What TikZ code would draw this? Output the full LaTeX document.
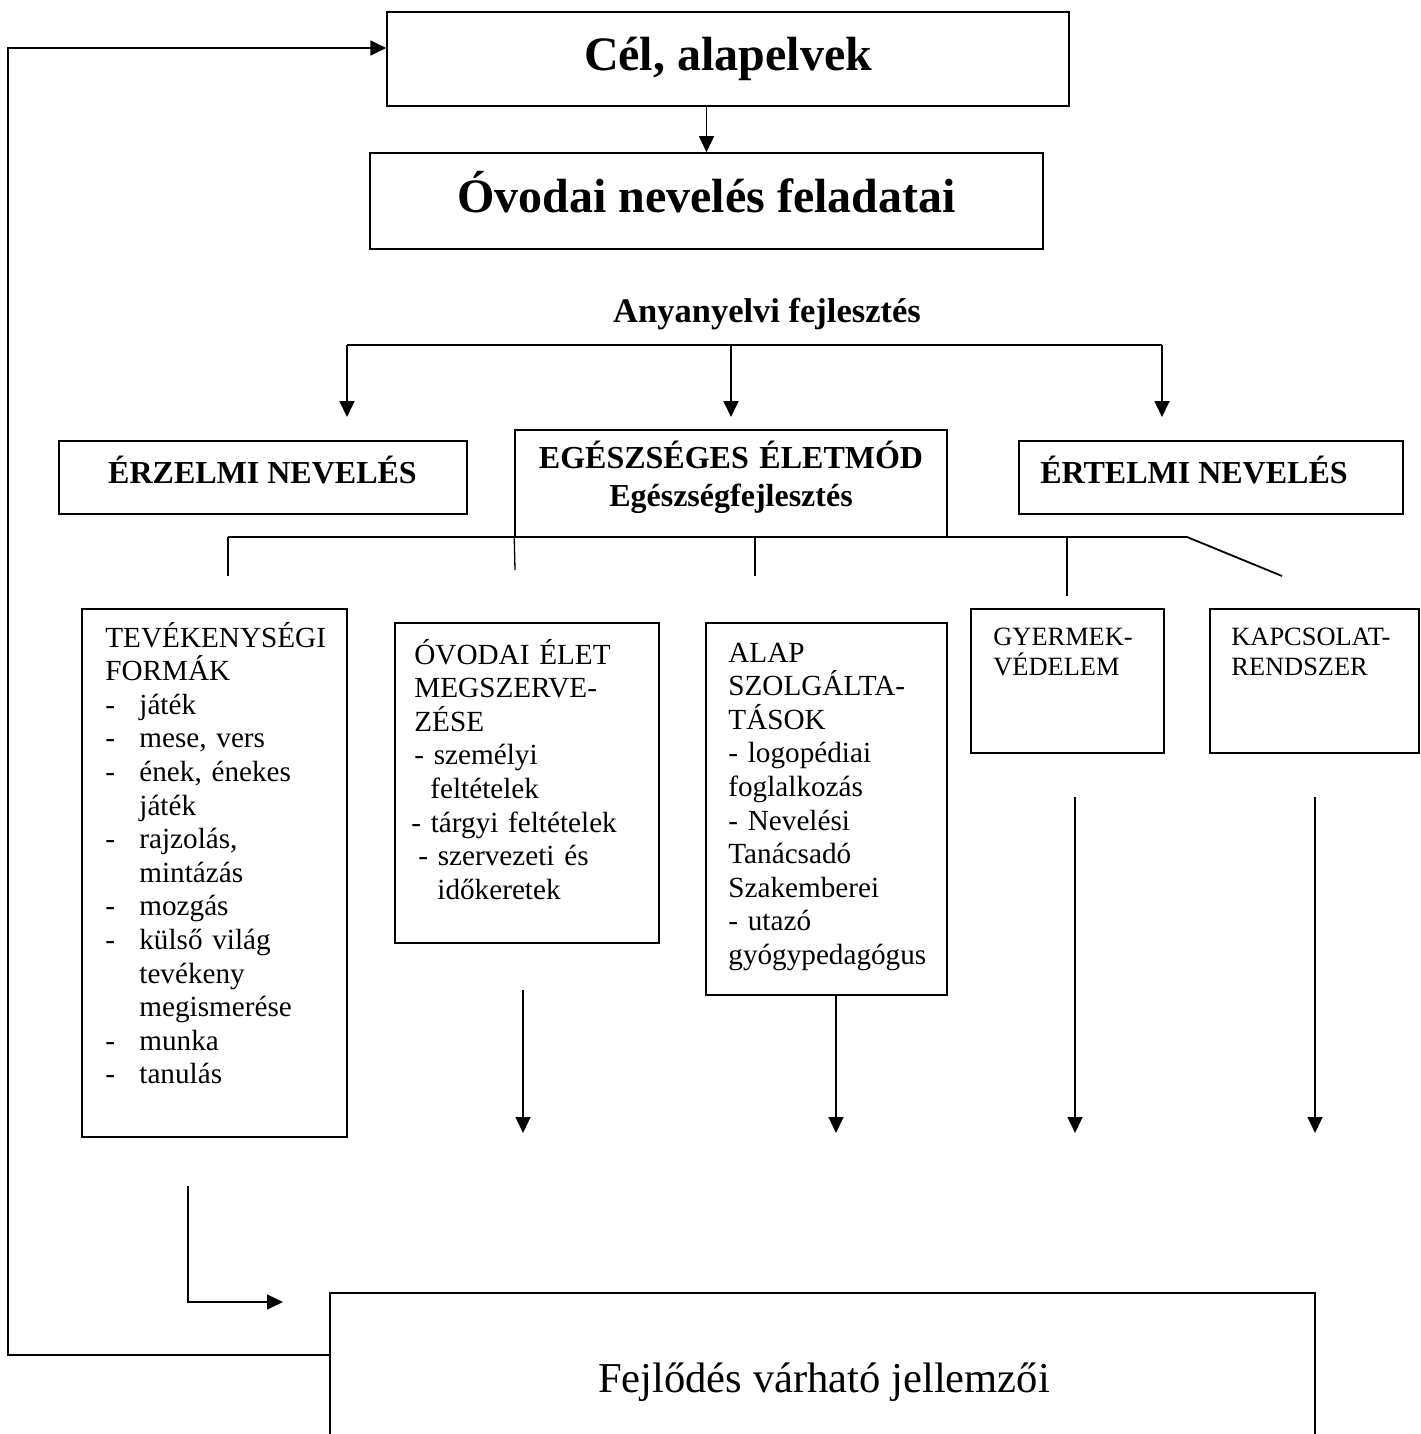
\documentclass[tikz,border=0pt]{standalone}
\usepackage{fontspec}
\setmainfont{Liberation Serif}
\usetikzlibrary{arrows.meta,positioning}

\newcommand{\dashitem}[1]{\makebox[17pt][l]{-}#1}
\newcommand{\contitem}[1]{\hspace*{17pt}#1}

\begin{document}
\begin{tikzpicture}[
  x=0.5pt, y=-0.5pt,
  box/.style={rectangle, draw, line width=0.75pt, inner sep=0pt},
  title/.style={font=\bfseries\fontsize{24}{28}\selectfont, inner sep=0pt, anchor=base},
  head/.style={font=\bfseries\fontsize{16}{19}\selectfont, inner sep=0pt, anchor=base},
  listtext/.style={font=\fontsize{14.6}{16.8}\selectfont, inner sep=0pt, text width=125pt, align=left, anchor=base west},
  smalltext/.style={font=\fontsize{13.2}{15}\selectfont, inner sep=0pt, text width=95pt, align=left, anchor=base west},
  arr/.style={-{Triangle[length=8pt,width=7.5pt]}, line width=0.9pt},
  thinarr/.style={-{Triangle[length=8pt,width=7.5pt]}, line width=0.65pt},
  link/.style={line width=0.9pt},
  thinlink/.style={line width=0.65pt}
]
\clip (0,0) rectangle (1420,1434);

% top
\node[box, minimum width=341pt, minimum height=47pt] (cel) at (728,59) {};
\node[title] (celtext) at (728,71) {Cél, alapelvek};
\node[box, minimum width=336.5pt, minimum height=48pt] (feladat) at (706.5,201) {};
\node[title] (feladattext) at (706.5,212) {Óvodai nevelés feladatai};
\draw[thinarr] (cel.south -| feladat.north) -- (feladat.north);

\node[head, font=\bfseries\fontsize{17.25}{20}\selectfont] (anyanyelv) at (767,322) {Anyanyelvi fejlesztés};

% three areas
\node[box, minimum width=204pt, minimum height=36.5pt] (erzelmi) at (263,477.5) {};
\node[head] (erzelmitext) at (262.5,483) {ÉRZELMI NEVELÉS};
\node[box, minimum width=216pt, minimum height=53.5pt] (egeszseg) at (731,483.5) {};
\node[head, align=center, text width=216pt] (egeszsegtext) at (731,468) {EGÉSZSÉGES ÉLETMÓD\\Egészségfejlesztés};
\node[box, minimum width=192pt, minimum height=36.5pt] (ertelmi) at (1211,477.5) {};
\node[head] (ertelmitext) at (1194,483) {ÉRTELMI NEVELÉS};

\coordinate (brleft) at (347,345);
\coordinate (brright) at (1162,345);
\coordinate (erzin) at (347,417);
\coordinate (egin) at (731,417);
\coordinate (ertin) at (1162,417);
\draw[link] (brleft) -- (brright);
\draw[arr] (brleft) -- (erzin);
\draw[arr] (egin |- brleft) -- (egin);
\draw[arr] (brright) -- (ertin);

% lower branch
\coordinate (tl) at (228,537);
\coordinate (tr) at (1187,537);
\coordinate (tdiag) at (1282,576);
\coordinate (tevtop) at (228,576);
\coordinate (elettop) at (515,570);
\coordinate (alaptop) at (755,576);
\coordinate (gyertop) at (1067,596);
\draw[link] (tl) -- (tr) -- (tdiag);
\draw[thinlink] (tl) -- (tevtop);
\draw[thinlink] (egeszseg.south west) -- (elettop);
\draw[thinlink] (alaptop |- tl) -- (alaptop);
\draw[thinlink] (gyertop |- tl) -- (gyertop);

% boxes
\node[box, minimum width=132.5pt, minimum height=264pt] (tev) at (214.5,873) {};
\node[listtext] (tevtext) at (105,647) {TEVÉKENYSÉGI\\FORMÁK\\\dashitem{játék}\\\dashitem{mese, vers}\\\dashitem{ének, énekes}\\\contitem{játék}\\\dashitem{rajzolás,}\\\contitem{mintázás}\\\dashitem{mozgás}\\\dashitem{külső világ}\\\contitem{tevékeny}\\\contitem{megismerése}\\\dashitem{munka}\\\dashitem{tanulás}};

\node[box, minimum width=132pt, minimum height=160pt] (elet) at (527,783) {};
\node[listtext] (elettext) at (414,664) {ÓVODAI ÉLET\\MEGSZERVE-\\ZÉSE\\- személyi\\\hspace*{8pt}feltételek\\\hspace*{-1.5pt}- tárgyi feltételek\\\hspace*{2pt}- szervezeti és\\\hspace*{11.5pt}időkeretek};

\node[box, minimum width=120.5pt, minimum height=186pt] (alap) at (826.5,809) {};
\node[listtext] (alaptext) at (728,662) {ALAP\\SZOLGÁLTA-\\TÁSOK\\- logopédiai\\foglalkozás\\- Nevelési\\Tanácsadó\\Szakemberei\\- utazó\\gyógypedagógus};

\node[box, minimum width=96.5pt, minimum height=72pt] (gyermek) at (1067.5,681) {};
\node[smalltext] (gyermektext) at (993,645) {GYERMEK-\\VÉDELEM};
\node[box, minimum width=104.5pt, minimum height=72pt] (kapcsolat) at (1314.5,681) {};
\node[smalltext] (kapcsolattext) at (1231,645) {KAPCSOLAT-\\RENDSZER};

% down arrows
\coordinate (eletstart) at (523,990);
\coordinate (eletend) at (523,1133);
\coordinate (alapend) at (836,1133);
\coordinate (gyerstart) at (1075,797);
\coordinate (gyerend) at (1075,1133);
\coordinate (kapstart) at (1315,797);
\coordinate (kapend) at (1315,1133);
\draw[thinarr] (eletstart) -- (eletend);
\draw[thinarr] (alap.south -| alapend) -- (alapend);
\draw[thinarr] (gyerstart) -- (gyerend);
\draw[thinarr] (kapstart) -- (kapend);

% result
\node[box, minimum width=492.5pt, minimum height=108.5pt] (fejl) at (822.5,1401.5) {};
\node[font=\fontsize{21.3}{25}\selectfont, inner sep=0pt, anchor=base] (fejltext) at (824,1392) {Fejlődés várható jellemzői};

\coordinate (lstart) at (188,1186);
\coordinate (lcorner) at (188,1302);
\coordinate (lend) at (283,1302);
\draw[thinarr] (lstart) -- (lcorner) -- (lend);

% feedback loop
\coordinate (loopbot) at (8,1355);
\coordinate (looptop) at (8,48);
\draw[arr] (fejl.west |- loopbot) -- (loopbot) -- (looptop) -- (cel.west |- looptop);
\end{tikzpicture}
\end{document}
